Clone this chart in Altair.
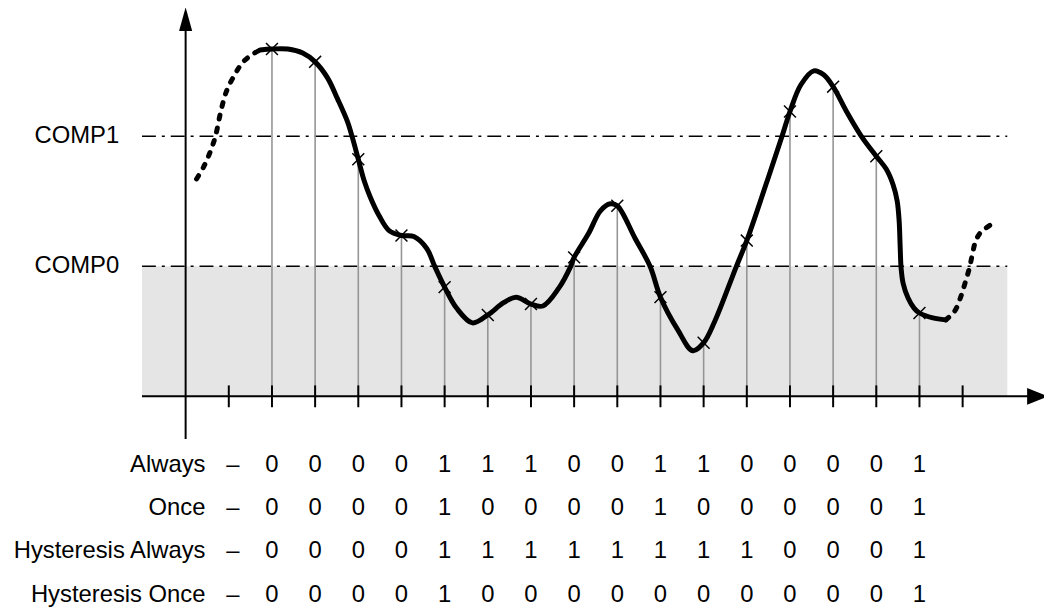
import altair as alt
import pandas as pd

# ---------------- data (x in sampling periods, y in comparator units: COMP0 = 1, COMP1 = 2)
sample_t = list(range(2, 18))
sample_v = [2.672, 2.573, 1.824, 1.237, 0.840, 0.626, 0.710, 1.069,
            1.466, 0.763, 0.412, 1.198, 2.191, 2.382, 1.847, 0.641]

curve_t = [1.724, 2.000, 2.368, 2.713, 3.000, 3.287, 3.517, 3.747, 3.862, 4.000,
           4.138, 4.276, 4.483, 4.713, 5.000, 5.287, 5.586, 5.770, 6.000, 6.276,
           6.644, 7.000, 7.356, 7.655, 8.000, 8.276, 8.644, 8.920, 9.000, 9.333,
           9.609, 9.839, 10.000, 10.414, 10.759, 11.000, 11.402, 11.747, 12.000, 12.253,
           12.759, 13.000, 13.471, 13.816, 14.000, 14.253, 14.552, 14.782, 15.000, 15.310,
           15.655, 16.000, 16.230, 16.391, 16.483, 16.529, 16.552, 16.575, 16.621, 16.736,
           16.874, 17.000, 17.310, 17.609]
curve_v = [2.664, 2.672, 2.672, 2.641, 2.573, 2.450, 2.290, 2.115, 1.992, 1.824,
           1.656, 1.534, 1.389, 1.275, 1.237, 1.229, 1.137, 1.000, 0.840, 0.679,
           0.565, 0.626, 0.718, 0.763, 0.710, 0.695, 0.832, 1.000, 1.069, 1.252,
           1.427, 1.481, 1.466, 1.214, 1.000, 0.763, 0.511, 0.351, 0.412, 0.573,
           1.000, 1.198, 1.656, 2.000, 2.191, 2.397, 2.504, 2.473, 2.382, 2.191,
           2.000, 1.847, 1.748, 1.626, 1.504, 1.351, 1.160, 0.985, 0.870, 0.756,
           0.679, 0.641, 0.603, 0.588]

lead_t = [0.253, 0.414, 0.575, 0.690, 0.805, 0.943, 1.149, 1.333, 1.563, 1.724]
lead_v = [1.672, 1.763, 1.885, 2.000, 2.176, 2.344, 2.481, 2.573, 2.634, 2.664]
tail_t = [17.609, 17.816, 17.954, 18.069, 18.161, 18.230, 18.299, 18.414, 18.690]
tail_v = [0.588, 0.656, 0.763, 0.885, 0.992, 1.099, 1.191, 1.260, 1.328]

tick_t = list(range(1, 19))

comp_names = ["COMP0", "COMP1"]
comp_levels = [1.0, 2.0]

row_names = ["Always", "Once", "Hysteresis Always", "Hysteresis Once"]
row_always = [0, 0, 0, 0, 1, 1, 1, 0, 0, 1, 1, 0, 0, 0, 0, 1]
row_once = [0, 0, 0, 0, 1, 0, 0, 0, 0, 1, 0, 0, 0, 0, 0, 1]
row_hyst_always = [0, 0, 0, 0, 1, 1, 1, 1, 1, 1, 1, 1, 0, 0, 0, 1]
row_hyst_once = [0, 0, 0, 0, 1, 0, 0, 0, 0, 0, 0, 0, 0, 0, 0, 1]
row_values = [row_always, row_once, row_hyst_always, row_hyst_once]

# ---------------- layout helpers
band_left, band_right = -1.011, 19.034
xaxis_left, xaxis_right = -1.011, 19.55
yaxis_bottom, yaxis_top = -0.328, 2.85
comp_label_x = -1.54
row_label_x = 0.46
dash_col = 1
row_y0, row_step = -0.532, 0.331
tick_half = 0.084

FONT = "Liberation Sans"
xs = alt.Scale(domain=[-4.1149, 19.885], nice=False, zero=False)
ys = alt.Scale(domain=[-1.6336, 2.9695], nice=False, zero=False)


def X(f):
    return alt.X(f, type="quantitative", scale=xs, axis=None)


def Y(f):
    return alt.Y(f, type="quantitative", scale=ys, axis=None)


band_df = pd.DataFrame({"x": [band_left], "x2": [band_right], "y": [0.0], "y2": [comp_levels[0]]})
band = alt.Chart(band_df).mark_rect(color="#e5e5e5").encode(
    x=X("x"), x2="x2", y=Y("y"), y2="y2")

comp_df = pd.DataFrame({"name": comp_names, "v": comp_levels,
                        "x": band_left, "x2": band_right, "lx": comp_label_x})
comp_lines = alt.Chart(comp_df).mark_rule(color="black", strokeWidth=1.5,
                                          strokeDash=[14, 6, 3, 6]).encode(
    x=X("x"), x2="x2", y=Y("v"))
comp_text = alt.Chart(comp_df).mark_text(align="right", baseline="middle", fontSize=24,
                                         font=FONT, color="black").encode(
    x=X("lx"), y=Y("v"), text="name:N")

samp_df = pd.DataFrame({"t": sample_t, "v": sample_v, "z": 0.0})
stems = alt.Chart(samp_df).mark_rule(color="#959595", strokeWidth=1.6).encode(
    x=X("t"), y=Y("z"), y2="v")

axes_df = pd.DataFrame({"x": [xaxis_left, 0.0], "x2": [xaxis_right, 0.0],
                        "y": [0.0, yaxis_bottom], "y2": [0.0, yaxis_top]})
axes = alt.Chart(axes_df).mark_rule(color="black", strokeWidth=2).encode(
    x=X("x"), x2="x2", y=Y("y"), y2="y2")

tick_df = pd.DataFrame({"t": tick_t, "lo": -tick_half, "hi": tick_half})
ticks = alt.Chart(tick_df).mark_rule(color="black", strokeWidth=2).encode(
    x=X("t"), y=Y("lo"), y2="hi")

curve_df = pd.DataFrame({"t": curve_t, "v": curve_v})
curve = alt.Chart(curve_df).mark_line(color="black", strokeWidth=5, interpolate="catmull-rom",
                                      strokeCap="round", strokeJoin="round").encode(
    x=X("t"), y=Y("v"))

dash_df = pd.concat([pd.DataFrame({"t": lead_t, "v": lead_v, "seg": "lead"}),
                     pd.DataFrame({"t": tail_t, "v": tail_v, "seg": "tail"})])
dashed = alt.Chart(dash_df).mark_line(color="black", strokeWidth=5, interpolate="catmull-rom",
                                      strokeDash=[4, 9], strokeCap="round").encode(
    x=X("t"), y=Y("v"), detail="seg:N")

markers = alt.Chart(samp_df).mark_point(shape="M-1,-1L1,1M-1,1L1,-1", size=144, filled=False,
                                        color="black", strokeWidth=1.5, opacity=1).encode(
    x=X("t"), y=Y("v"))

arrow_y_df = pd.DataFrame({"x": [0.0], "y": [2.901]})
arrow_y = alt.Chart(arrow_y_df).mark_point(shape="M0,-1L0.55,1L-0.55,1Z", size=576, filled=True,
                                           color="black", opacity=1).encode(x=X("x"), y=Y("y"))
arrow_x_df = pd.DataFrame({"x": [19.736], "y": [0.0]})
arrow_x = alt.Chart(arrow_x_df).mark_point(shape="M1,0L-1,0.81L-1,-0.81Z", size=441, filled=True,
                                           color="black", opacity=1).encode(x=X("x"), y=Y("y"))

lab_rows, val_rows, dash_rows = [], [], []
for i, (name, vals) in enumerate(zip(row_names, row_values)):
    ry = row_y0 - i * row_step
    lab_rows.append({"x": row_label_x, "y": ry, "txt": name})
    dash_rows.append({"x": dash_col, "y": ry, "txt": "\u2013"})
    for j, v in enumerate(vals):
        val_rows.append({"x": sample_t[j], "y": ry, "txt": str(v)})

row_lab = alt.Chart(pd.DataFrame(lab_rows)).mark_text(
    align="right", baseline="middle", fontSize=24, font=FONT, color="black").encode(
    x=X("x"), y=Y("y"), text="txt:N")
row_dash = alt.Chart(pd.DataFrame(dash_rows)).mark_text(
    align="center", baseline="middle", fontSize=24, font=FONT, color="black", dx=4).encode(
    x=X("x"), y=Y("y"), text="txt:N")
row_val = alt.Chart(pd.DataFrame(val_rows)).mark_text(
    align="center", baseline="middle", fontSize=24, font=FONT, color="black").encode(
    x=X("x"), y=Y("y"), text="txt:N")

chart = alt.layer(band, comp_lines, stems, axes, ticks, curve, dashed, markers,
                  arrow_y, arrow_x, comp_text, row_lab, row_dash, row_val).properties(
    width=1044, height=603, padding=0,
    autosize=alt.AutoSizeParams(type="none"),
).configure_view(stroke=None)

chart.save("out.html", embed_options={"renderer": "svg", "actions": False})
